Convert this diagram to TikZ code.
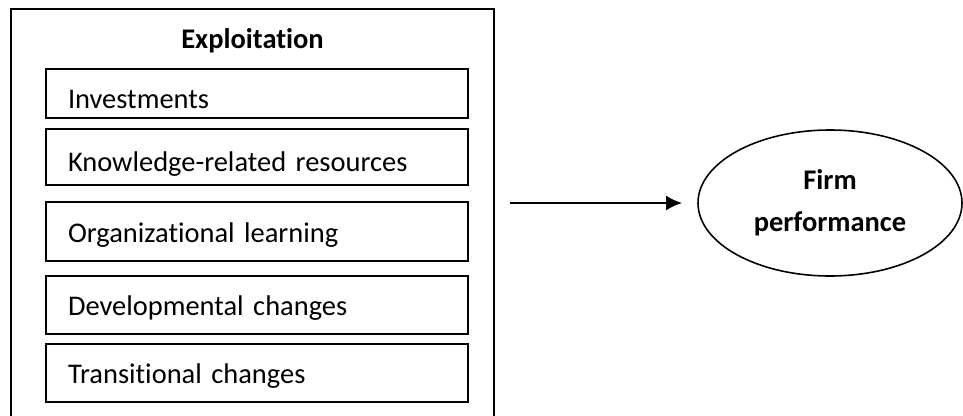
\documentclass[tikz,border=0pt]{standalone}
\usepackage{fontspec}
\setmainfont{Carlito}[Ligatures=NoCommon]
\usetikzlibrary{arrows.meta,shapes.geometric}
\tikzset{
  >=Latex,
  group/.style={draw=black,line width=1.1pt,fill=white,inner sep=0pt},
  heading/.style={font=\fontsize{16.2}{19.5}\selectfont\bfseries,align=center,inner sep=0pt},
  factor/.style={draw=black,line width=1pt,align=left,text width=7.56cm,inner xsep=0.44cm,inner ysep=0pt,font=\fontsize{16.2}{19.5}\selectfont,text height=0.5cm,text depth=0.08cm},
  outcome/.style={ellipse,draw=black,line width=0.9pt,inner sep=0pt,align=center,font=\fontsize{16.2}{23.8}\selectfont\bfseries,minimum width=5.28cm,minimum height=2.92cm},
  link/.style={-{Latex[length=3.2mm,width=3mm]},line width=1.5pt,shorten >=3mm,shorten <=3mm}
}
\begin{document}
\begin{tikzpicture}[x=1cm,y=1cm]
  \useasboundingbox (0,0) rectangle (19.26,8.3);
  % exploitation block
  \node[group,minimum width=9.66cm,minimum height=8.22cm] (exploit) at (5.05,4.01) {};
  \node[heading,anchor=base] (exploitTitle) at (5.05,7.34) {Exploitation};
  \node[factor,minimum height=0.98cm,text height=0.66cm,text depth=0.08cm] (invest) at (5.14,6.43) {Investments};
  \node[factor,minimum height=1.12cm,text height=0.66cm,text depth=0.08cm] (knowledge) at (5.14,5.16) {Knowledge-related resources};
  \node[factor,minimum height=1.18cm] (learning) at (5.14,3.67) {Organizational learning};
  \node[factor,minimum height=1.16cm] (develop) at (5.14,2.2) {Developmental changes};
  \node[factor,minimum height=1.16cm] (transit) at (5.14,0.84) {Transitional changes};
  % outcome
  \node[outcome] (perf) at (16.6,4.24) {Firm\\performance};
  \draw[link] (exploit.east |- perf.west) -- (perf.west);
\end{tikzpicture}
\end{document}
